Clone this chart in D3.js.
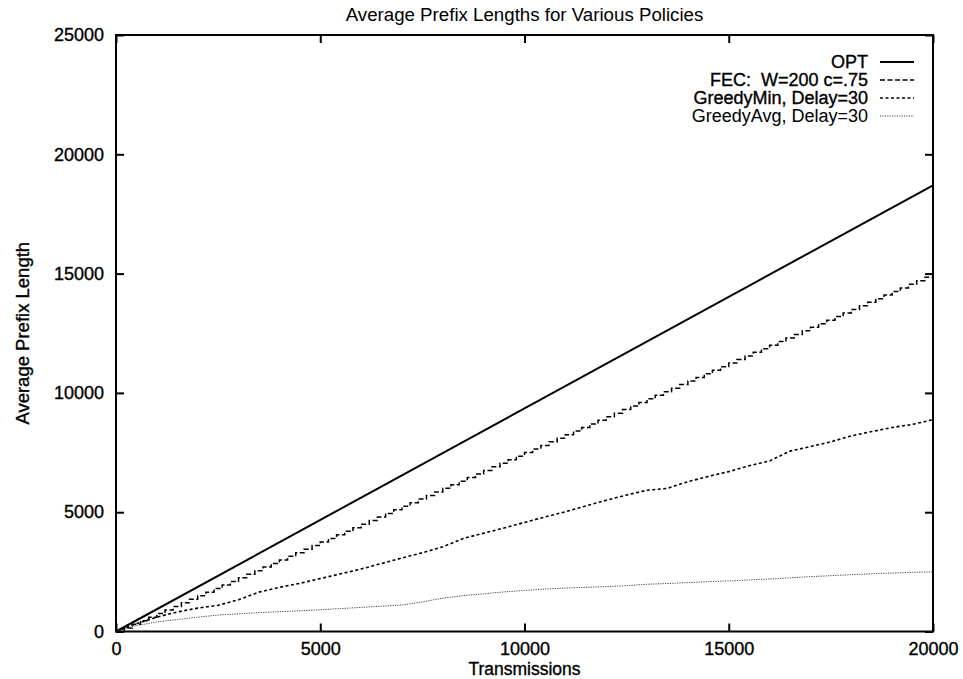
<!DOCTYPE html>
<html>
<head>
<meta charset="utf-8">
<script src="https://cdn.jsdelivr.net/npm/d3@7"></script>
<style>
  html, body { margin: 0; padding: 0; background: #fff; }
  svg text { font-family: "Liberation Sans", Arial, Helvetica, sans-serif; fill: #000; white-space: pre; }
  svg text.heavy { stroke: currentColor; stroke-width: 0.35px; }
</style>
</head>
<body>
<svg id="chart" width="963" height="679"></svg>
<script>
// Transmission counts (x) shared by the sampled policies
const transmissions = [0,500,1000,1500,2000,2500,3000,3500,4000,4500,5000,5500,6000,6500,7000,7500,8000,8500,9000,9500,10000,
  10500,11000,11500,12000,12500,13000,13500,14000,14500,15000,15500,16000,16500,17000,17500,18000,18500,19000,19500,20000];

// OPT grows linearly
const optX = [0, 20000];
const optY = [0, 18700];

// FEC (W=200, c=.75): one step per window of 200 transmissions
const fecX = [0,200,400,600,800,1000,1200,1400,1600,1800,2000,2200,2400,2600,2800,3000,3200,3400,3600,3800,
  4000,4200,4400,4600,4800,5000,5200,5400,5600,5800,6000,6200,6400,6600,6800,7000,7200,7400,7600,7800,
  8000,8200,8400,8600,8800,9000,9200,9400,9600,9800,10000,10200,10400,10600,10800,11000,11200,11400,11600,11800,
  12000,12200,12400,12600,12800,13000,13200,13400,13600,13800,14000,14200,14400,14600,14800,15000,15200,15400,15600,15800,
  16000,16200,16400,16600,16800,17000,17200,17400,17600,17800,18000,18200,18400,18600,18800,19000,19200,19400,19600,19800,20000];
const fecY = [0,150,300,450,600,750,900,1050,1200,1350,1500,1650,1800,1950,2100,2250,2400,2550,2700,2850,
  3000,3150,3300,3450,3600,3750,3900,4050,4200,4350,4500,4650,4800,4950,5100,5250,5400,5550,5700,5850,
  6000,6150,6300,6450,6600,6750,6900,7050,7200,7350,7500,7650,7800,7950,8100,8250,8400,8550,8700,8850,
  9000,9150,9300,9450,9600,9750,9900,10050,10200,10350,10500,10650,10800,10950,11100,11250,11400,11550,11700,11850,
  12000,12150,12300,12450,12600,12750,12900,13050,13200,13350,13500,13650,13800,13950,14100,14250,14400,14550,14700,14850,15000];

const greedyMin = [0,330,600,820,980,1100,1330,1650,1850,2020,2220,2420,2620,2850,3080,3300,3550,3900,4120,4340,4570,
  4800,5020,5260,5500,5720,5920,6000,6280,6500,6700,6950,7150,7560,7750,7950,8200,8380,8550,8680,8880];

const greedyAvg = [0,250,400,500,600,690,740,790,830,870,910,960,1010,1060,1110,1240,1400,1500,1580,1660,1720,
  1780,1820,1850,1880,1920,1980,2010,2050,2090,2120,2160,2200,2250,2300,2340,2380,2420,2450,2480,2500];

const xTicks = [0, 5000, 10000, 15000, 20000];
const yTicks = [0, 5000, 10000, 15000, 20000, 25000];

const legendLabels = ["OPT", "FEC:  W=200 c=.75", "GreedyMin, Delay=30", "GreedyAvg, Delay=30"];

(function draw() {
  const series = [
    { name: legendLabels[0], xs: optX, ys: optY, color: "#000", width: 2, dash: null, curve: d3.curveLinear, text: "#000" },
    { name: legendLabels[1], xs: fecX, ys: fecY, color: "#000", width: 1.5, dash: "5,2.5", curve: d3.curveStepAfter, text: "#000" },
    { name: legendLabels[2], xs: transmissions, ys: greedyMin, color: "#000", width: 1.6, dash: "3,2.5", curve: d3.curveLinear, text: "#000" },
    { name: legendLabels[3], xs: transmissions, ys: greedyAvg, color: "#444", width: 1, dash: "1.2,1.2", curve: d3.curveLinear, text: "#3a3a3a" }
  ];

  const svg = d3.select("#chart");
  const plotLeft = 116, plotRight = 933, plotTop = 35, plotBottom = 631.5;

  const x = d3.scaleLinear().domain([0, 20000]).range([plotLeft, plotRight]);
  const y = d3.scaleLinear().domain([0, 25000]).range([plotBottom, plotTop]);

  const FS = 18;

  // Title
  svg.append("text")
    .attr("x", (plotLeft + plotRight) / 2).attr("y", 21)
    .attr("text-anchor", "middle")
    .style("font-size", "18.7px")
    .text("Average Prefix Lengths for Various Policies");

  // Axes with inward ticks, mirrored on the opposite sides
  const tickLen = 8;
  const axisStyle = g => {
    g.select(".domain").remove();
    g.selectAll(".tick line").attr("stroke", "#000").attr("stroke-width", 2);
    g.selectAll(".tick text").attr("class", "heavy").style("font-size", FS + "px")
      .attr("fill", "#000").style("color", "#000");
  };

  svg.append("g").attr("transform", `translate(0,${plotBottom})`)
    .call(d3.axisBottom(x).tickValues(xTicks).tickFormat(d3.format("d")).tickSize(-tickLen).tickPadding(11))
    .call(axisStyle);
  svg.append("g").attr("transform", `translate(0,${plotTop})`)
    .call(d3.axisTop(x).tickValues(xTicks).tickFormat("").tickSize(-tickLen))
    .call(axisStyle);
  svg.append("g").attr("transform", `translate(${plotLeft},0)`)
    .call(d3.axisLeft(y).tickValues(yTicks).tickFormat(d3.format("d")).tickSize(-tickLen).tickPadding(12))
    .call(axisStyle);
  svg.append("g").attr("transform", `translate(${plotRight},0)`)
    .call(d3.axisRight(y).tickValues(yTicks).tickFormat("").tickSize(-tickLen))
    .call(axisStyle);

  // Plot frame
  svg.append("rect")
    .attr("x", plotLeft).attr("y", plotTop)
    .attr("width", plotRight - plotLeft).attr("height", plotBottom - plotTop)
    .attr("fill", "none").attr("stroke", "#000").attr("stroke-width", 2);

  // Axis titles
  svg.append("text")
    .attr("class", "heavy")
    .attr("x", (plotLeft + plotRight) / 2).attr("y", 675)
    .attr("text-anchor", "middle")
    .style("font-size", "17.5px")
    .style("color", "#000")
    .text("Transmissions");
  svg.append("text")
    .attr("class", "heavy")
    .attr("transform", `translate(29,${(plotTop + plotBottom) / 2}) rotate(-90)`)
    .attr("text-anchor", "middle")
    .style("font-size", "18.5px")
    .style("color", "#000")
    .text("Average Prefix Length");

  // Series lines
  const plot = svg.append("g");
  series.forEach(s => {
    const pts = s.xs.map((v, i) => [v, s.ys[i]]);
    const line = d3.line().x(d => x(d[0])).y(d => y(d[1])).curve(s.curve);
    plot.append("path")
      .datum(pts)
      .attr("d", line)
      .attr("fill", "none")
      .attr("stroke", s.color)
      .attr("stroke-width", s.width)
      .attr("stroke-dasharray", s.dash)
      .attr("stroke-linejoin", "miter");
  });

  // Legend
  const legend = svg.append("g");
  series.forEach((s, i) => {
    const cy = 62 + i * 18;
    legend.append("text")
      .attr("class", i < 3 ? "heavy" : null)
      .attr("x", 868).attr("y", cy)
      .attr("dy", "0.35em")
      .attr("text-anchor", "end")
      .style("font-size", "18px")
      .style("color", s.text)
      .attr("fill", s.text)
      .text(s.name);
    legend.append("line")
      .attr("x1", 880).attr("x2", 914)
      .attr("y1", cy).attr("y2", cy)
      .attr("stroke", s.color)
      .attr("stroke-width", s.width)
      .attr("stroke-dasharray", s.dash);
  });
})();
</script>
</body>
</html>
